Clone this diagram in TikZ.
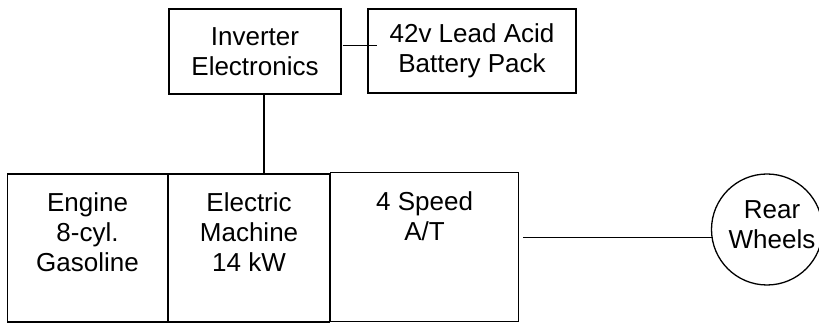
\documentclass[tikz,border=0pt]{standalone}
\usepackage{fontspec}
\setmainfont{Liberation Sans}
\usetikzlibrary{positioning,calc}

\begin{document}
\begin{tikzpicture}[x=1pt,y=1pt,
    unit/.style={draw, line width=1.3pt, inner sep=0pt, align=center,
      font=\fontsize{26}{30}\selectfont},
    caption/.style={anchor=north, inner sep=0pt, align=center,
      font=\fontsize{26}{30}\selectfont},
    wire/.style={line width=1.3pt}]
    \useasboundingbox (0,0) rectangle (819,323);
    % Electrical side
    \node[unit, minimum width=172, minimum height=85] (inv) at (255,271.5) {Inverter\\Electronics};
    \node[unit, minimum width=208, minimum height=84] (bat) at (472,272) {42v Lead Acid\\Battery Pack};
    % Drivetrain
    \node[unit, minimum width=160, minimum height=148.2] (eng) at (87.5,75) {};
    \node[unit, minimum width=160.5, minimum height=148.2, right=0pt of eng] (emach) {};
    \node[unit, minimum width=188, minimum height=149, right=0pt of emach, yshift=1pt] (trans) {};
    \node[unit, circle, minimum size=111] (whl) at (767,93.5) {};
    % Box texts
    \node[caption] at ([yshift=-19pt]eng.north) {Engine\\8-cyl.\\Gasoline};
    \node[caption] at ([yshift=-19pt]emach.north) {Electric\\Machine\\14 kW};
    \node[caption] at ([yshift=-20pt]trans.north) {4 Speed\\A/T};
    \node[caption, anchor=center] at ([xshift=5pt,yshift=4.5pt]whl.center) {Rear\\Wheels};
    % Connections
    \draw[wire] ($(inv.east)+(1,6)$) coordinate (link) -- ($(link -| bat.west)+(10,0)$);
    \draw[wire] ([xshift=9pt]inv.south) -- ([xshift=9pt]inv.south |- emach.north);
    \draw[wire, shorten >=-1.5pt] ($(trans.east)+(4,9.2)$) coordinate (shaft) -- (shaft -| whl.west);
\end{tikzpicture}
\end{document}
